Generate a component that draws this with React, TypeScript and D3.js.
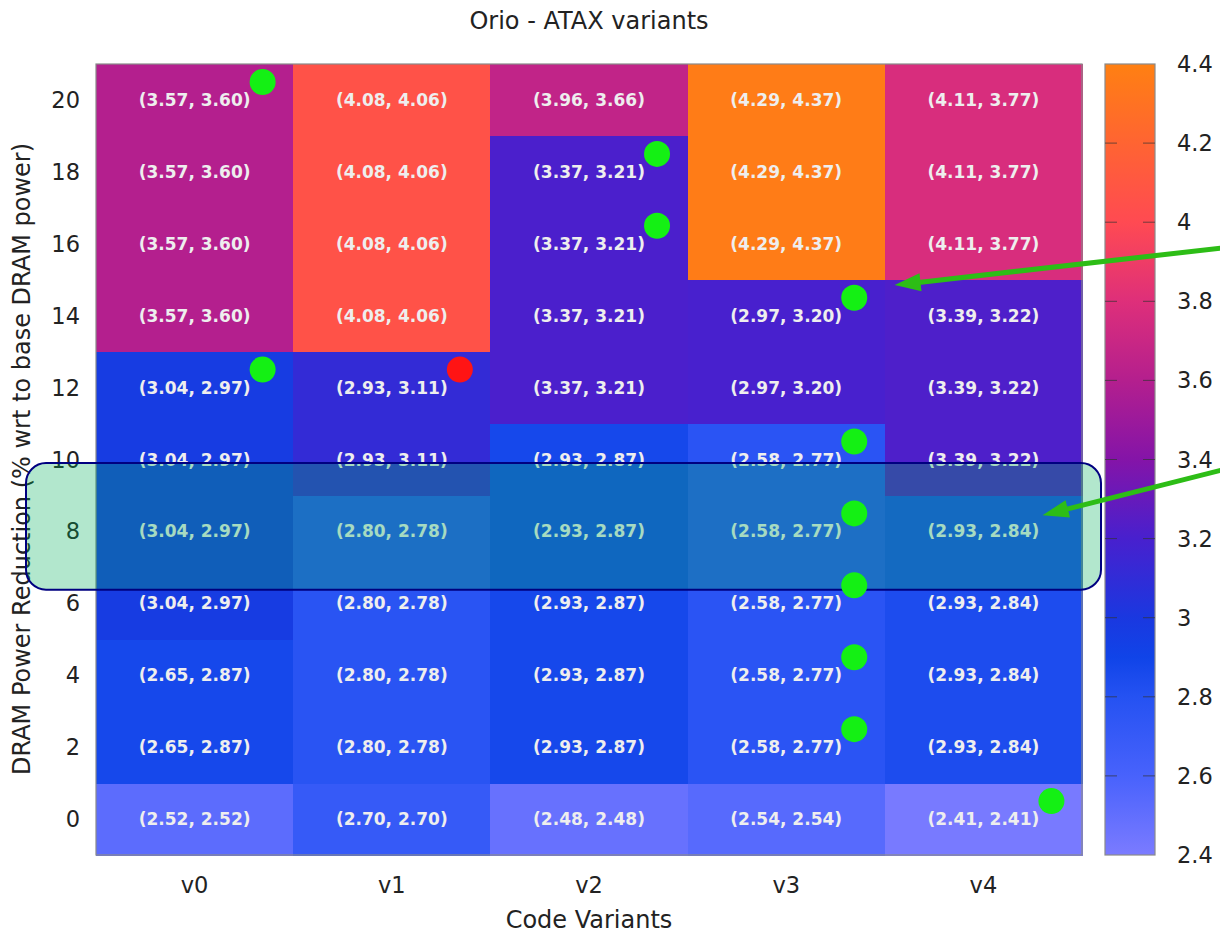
import React from 'react';
import * as d3 from 'd3';

// code variants along x, DRAM power reduction levels along y
const variants = ['v0', 'v1', 'v2', 'v3', 'v4'];
const levels = [0, 2, 4, 6, 8, 10, 12, 14, 16, 18, 20];

// first number of each cell label, one row per level (0 .. 20)
const firstVals = [
  [2.52, 2.70, 2.48, 2.54, 2.41],
  [2.65, 2.80, 2.93, 2.58, 2.93],
  [2.65, 2.80, 2.93, 2.58, 2.93],
  [3.04, 2.80, 2.93, 2.58, 2.93],
  [3.04, 2.80, 2.93, 2.58, 2.93],
  [3.04, 2.93, 2.93, 2.58, 3.39],
  [3.04, 2.93, 3.37, 2.97, 3.39],
  [3.57, 4.08, 3.37, 2.97, 3.39],
  [3.57, 4.08, 3.37, 4.29, 4.11],
  [3.57, 4.08, 3.37, 4.29, 4.11],
  [3.57, 4.08, 3.96, 4.29, 4.11],
];

// second number of each cell label, this one sets the cell colour
const secondVals = [
  [2.52, 2.70, 2.48, 2.54, 2.41],
  [2.87, 2.78, 2.87, 2.77, 2.84],
  [2.87, 2.78, 2.87, 2.77, 2.84],
  [2.97, 2.78, 2.87, 2.77, 2.84],
  [2.97, 2.78, 2.87, 2.77, 2.84],
  [2.97, 3.11, 2.87, 2.77, 3.22],
  [2.97, 3.11, 3.21, 3.20, 3.22],
  [3.60, 4.06, 3.21, 3.20, 3.22],
  [3.60, 4.06, 3.21, 4.37, 3.77],
  [3.60, 4.06, 3.21, 4.37, 3.77],
  [3.60, 4.06, 3.66, 4.37, 3.77],
];

// marked cells (dots)
const markVariants = ['v0', 'v2', 'v2', 'v3', 'v0', 'v1', 'v3', 'v3', 'v3', 'v3', 'v3', 'v4'];
const markLevels = [20, 18, 16, 14, 12, 12, 10, 8, 6, 4, 2, 0];
const markBest = [true, true, true, true, true, false, true, true, true, true, true, true];

// palette
const paletteStops = [2.4, 2.6, 2.8, 2.9, 3.0, 3.2, 3.4, 3.6, 3.8, 4.0, 4.2, 4.4];
const paletteColors = ['#7b7bff', '#4862fc', '#2552f2', '#1044e8', '#1a38e0', '#4820ce', '#8414a8', '#b41f8e', '#de2f7a', '#ff4a52', '#ff6432', '#ff8012'];
const cbTicks = [2.4, 2.6, 2.8, 3.0, 3.2, 3.4, 3.6, 3.8, 4.0, 4.2, 4.4];

const W = 1220;
const H = 936;
const FONT = 'DejaVu Sans, sans-serif';

const App: React.FC = () => {
  const left = 96, right = 1082, top = 64, bottom = 855;
  const cbX = 1105, cbW = 50;

  const x = d3.scaleBand<string>().domain(variants).range([left, right]).padding(0);
  const y = d3.scaleLinear().domain([-1, 21]).range([bottom, top]);
  const color = d3.scaleLinear<string>().domain(paletteStops).range(paletteColors).interpolate(d3.interpolateRgb).clamp(true);
  const cbY = d3.scaleLinear().domain([2.4, 4.4]).range([bottom, top]);

  const bw = x.bandwidth();

  const cells: { v: string; lvl: number; a: number; b: number }[] = [];
  levels.forEach((lvl, i) => {
    variants.forEach((v, j) => {
      cells.push({ v, lvl, a: firstVals[i][j], b: secondVals[i][j] });
    });
  });

  const fmt = (n: number) => n.toFixed(2);
  const green = '#2dbd16';

  // arrows: tails at right page edge, heads on the plot
  const arrows = [
    { x0: W + 2, y0: 248, x1: x('v3')! + bw * 1.05, y1: y(14.85) },
    { x0: W + 2, y0: 470, x1: x('v4')! + bw * 0.8, y1: y(8.45) },
  ];

  const arrowPath = (a: { x0: number; y0: number; x1: number; y1: number }) => {
    const ang = Math.atan2(a.y1 - a.y0, a.x1 - a.x0);
    const len = 26, half = 9;
    const bx = a.x1 - len * Math.cos(ang);
    const by = a.y1 - len * Math.sin(ang);
    const px = -Math.sin(ang) * half, py = Math.cos(ang) * half;
    return {
      line: `M${a.x0},${a.y0}L${bx + 4 * Math.cos(ang)},${by + 4 * Math.sin(ang)}`,
      head: `M${a.x1},${a.y1}L${bx + px},${by + py}L${bx - px},${by - py}Z`,
    };
  };

  return (
    <svg width={W} height={H} style={{ position: 'absolute', left: 0, top: 0, background: '#fff' }} fontFamily={FONT}>
      <defs>
        <linearGradient id="cb" x1="0" y1="1" x2="0" y2="0">
          {paletteStops.map((s, i) => (
            <stop key={i} offset={(s - 2.4) / 2} stopColor={paletteColors[i]} />
          ))}
        </linearGradient>
      </defs>

      <text x={589} y={29} textAnchor="middle" fontSize={24} fill="#222">Orio - ATAX variants</text>

      {/* heatmap cells */}
      <g shapeRendering="crispEdges">
        {cells.map((c, i) => (
          <rect key={i} x={x(c.v)} y={y(c.lvl + 1)} width={bw + 0.5} height={y(c.lvl - 1) - y(c.lvl + 1) + 0.5} fill={color(c.b)} />
        ))}
      </g>
      {cells.map((c, i) => (
        <text key={'t' + i} x={x(c.v)! + bw / 2} y={y(c.lvl) + 6} textAnchor="middle" fontSize={17} fontWeight="bold" fill="#eeeeee">
          {`(${fmt(c.a)}, ${fmt(c.b)})`}
        </text>
      ))}
      <rect x={left} y={top} width={right - left} height={bottom - top} fill="none" stroke="#8a8a8a" strokeWidth={1.2} />

      {/* axes */}
      {levels.map((l) => (
        <text key={'y' + l} x={80} y={y(l) + 8} textAnchor="end" fontSize={22.5} fill="#222">{l}</text>
      ))}
      {variants.map((v) => (
        <text key={'x' + v} x={x(v)! + bw / 2} y={893} textAnchor="middle" fontSize={22.5} fill="#222">{v}</text>
      ))}
      <text x={589} y={928} textAnchor="middle" fontSize={24} fill="#222">Code Variants</text>
      <text transform={`translate(30,459) rotate(-90)`} textAnchor="middle" fontSize={24} fill="#222">
        DRAM Power Reduction (% wrt to base DRAM power)
      </text>

      {/* colour box */}
      <rect x={cbX} y={top} width={cbW} height={bottom - top} fill="url(#cb)" stroke="#8a8a8a" strokeWidth={1.2} />
      {cbTicks.map((t) => (
        <g key={'cb' + t}>
          {t > 2.41 && t < 4.39 && (
            <>
              <line x1={cbX} x2={cbX + 12} y1={cbY(t)} y2={cbY(t)} stroke="#333" strokeOpacity={0.7} />
              <line x1={cbX + cbW - 12} x2={cbX + cbW} y1={cbY(t)} y2={cbY(t)} stroke="#333" strokeOpacity={0.7} />
            </>
          )}
          <text x={1177} y={cbY(t) + 8} fontSize={22.5} fill="#222">{String(+t.toFixed(1))}</text>
        </g>
      ))}

      {/* highlight band over level 8 */}
      <rect x={26} y={y(9.9)} width={1075} height={y(6.38) - y(9.9)} rx={20} ry={20}
        fill="rgb(0,175,90)" fillOpacity={0.3} stroke="#000080" strokeWidth={2} />

      {/* marks */}
      {markLevels.map((l, i) => (
        <circle key={'m' + i} cx={x(markVariants[i])! + bw * 0.845} cy={y(l + 0.5)} r={13}
          fill={markBest[i] ? '#14f014' : '#ff1414'} />
      ))}

      {/* arrows */}
      {arrows.map((a, i) => {
        const p = arrowPath(a);
        return (
          <g key={'a' + i}>
            <path d={p.line} stroke={green} strokeWidth={5} fill="none" />
            <path d={p.head} fill={green} />
          </g>
        );
      })}
    </svg>
  );
};

export default App;
